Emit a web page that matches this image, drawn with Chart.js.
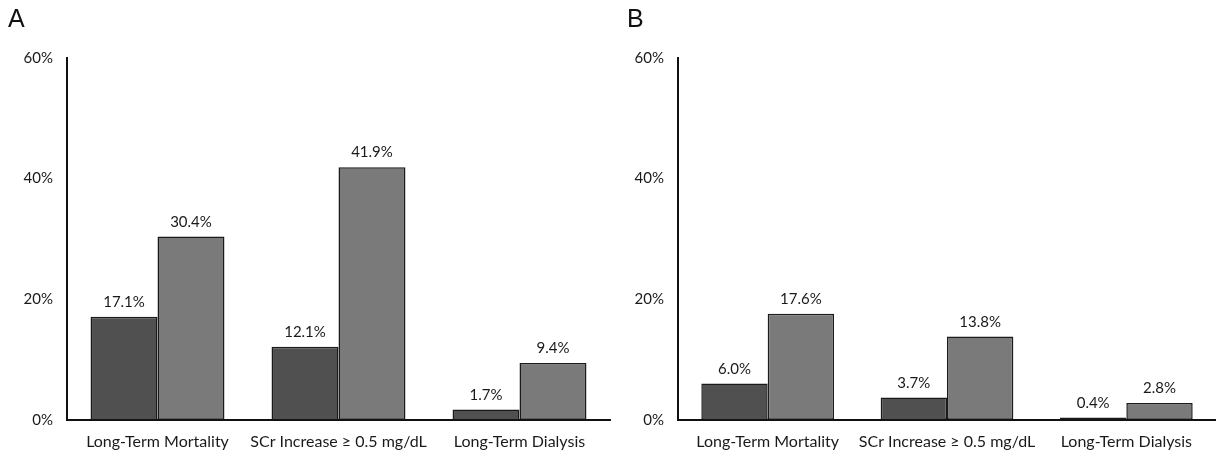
<!DOCTYPE html>
<html>
<head>
<meta charset="utf-8">
<script src="https://cdn.jsdelivr.net/npm/chart.js@4.4.1/dist/chart.umd.min.js"></script>
<style>
  html, body { margin: 0; padding: 0; background: #fff; }
  body { width: 1216px; height: 463px; position: relative; overflow: hidden; font-family: Lato, "Open Sans", sans-serif; }
  .panel { position: absolute; top: 0; height: 463px; }
  .panel-label { position: absolute; top: 4px; font-size: 25px; color: #111; font-family: "Liberation Sans", Arial, sans-serif; }
</style>
</head>
<body>
<div class="panel" style="left:0;width:612px"><canvas id="chartA"></canvas></div>
<div class="panel" style="left:612px;width:604px"><canvas id="chartB"></canvas></div>
<div class="panel-label" style="left:8px">A</div>
<div class="panel-label" style="left:627px">B</div>
<script>
const categories = ['Long-Term Mortality', 'SCr Increase \u2265 0.5 mg/dL', 'Long-Term Dialysis'];
const yTicks = [0, 20, 40, 60];
const darkA = [17.1, 12.1, 1.7];
const lightA = [30.4, 41.9, 9.4];
const darkB = [6.0, 3.7, 0.4];
const lightB = [17.6, 13.8, 2.8];

const FONT = 'Lato, "Open Sans", sans-serif';

// draws the value above each bar
const valueLabels = {
  id: 'valueLabels',
  afterDatasetsDraw(chart) {
    const ctx = chart.ctx;
    ctx.save();
    ctx.font = '15px ' + FONT;
    ctx.fillStyle = '#1a1a1a';
    ctx.textAlign = 'center';
    ctx.textBaseline = 'bottom';
    chart.data.datasets.forEach((ds, i) => {
      chart.getDatasetMeta(i).data.forEach((bar, j) => {
        ctx.fillText(ds.data[j].toFixed(1) + '%', bar.x, bar.y - 7);
      });
    });
    ctx.restore();
  },
};

function makeChart(id, dark, light, yWidth, rightPad) {
  new Chart(document.getElementById(id), {
    type: 'bar',
    data: {
      labels: categories,
      datasets: [
        { data: dark, backgroundColor: '#505050', borderColor: '#1a1a1a', borderWidth: 1.5, borderSkipped: false },
        { data: light, backgroundColor: '#7a7a7a', borderColor: '#1a1a1a', borderWidth: 1.5, borderSkipped: false },
      ],
    },
    options: {
      responsive: false,
      animation: false,
      layout: { padding: { top: 58, right: rightPad, bottom: 0, left: 0 } },
      plugins: { legend: { display: false }, tooltip: { enabled: false } },
      datasets: { bar: { categoryPercentage: 0.74, barPercentage: 1 } },
      scales: {
        x: {
          grid: { display: false, drawTicks: false },
          border: { display: true, color: '#111', width: 2 },
          ticks: { color: '#1a1a1a', font: { family: FONT, size: 16 }, padding: 12, maxRotation: 0, autoSkip: false },
        },
        y: {
          min: 0,
          max: 60,
          afterBuildTicks: (s) => { s.ticks = yTicks.map((v) => ({ value: v })); },
          afterFit: (s) => { s.width = yWidth; },
          grid: { display: false, drawTicks: false },
          border: { display: true, color: '#111', width: 2 },
          ticks: { color: '#1a1a1a', font: { family: FONT, size: 15 }, padding: 14, callback: (v) => v + '%' },
        },
      },
    },
    plugins: [valueLabels],
  });
}

function sizeCanvas(id, w) {
  const c = document.getElementById(id);
  c.width = w;
  c.height = 463;
  c.style.width = w + 'px';
  c.style.height = '463px';
}

sizeCanvas('chartA', 612);
sizeCanvas('chartB', 604);
makeChart('chartA', darkA, lightA, 67, 2);
makeChart('chartB', darkB, lightB, 66, 0);
</script>
</body>
</html>
